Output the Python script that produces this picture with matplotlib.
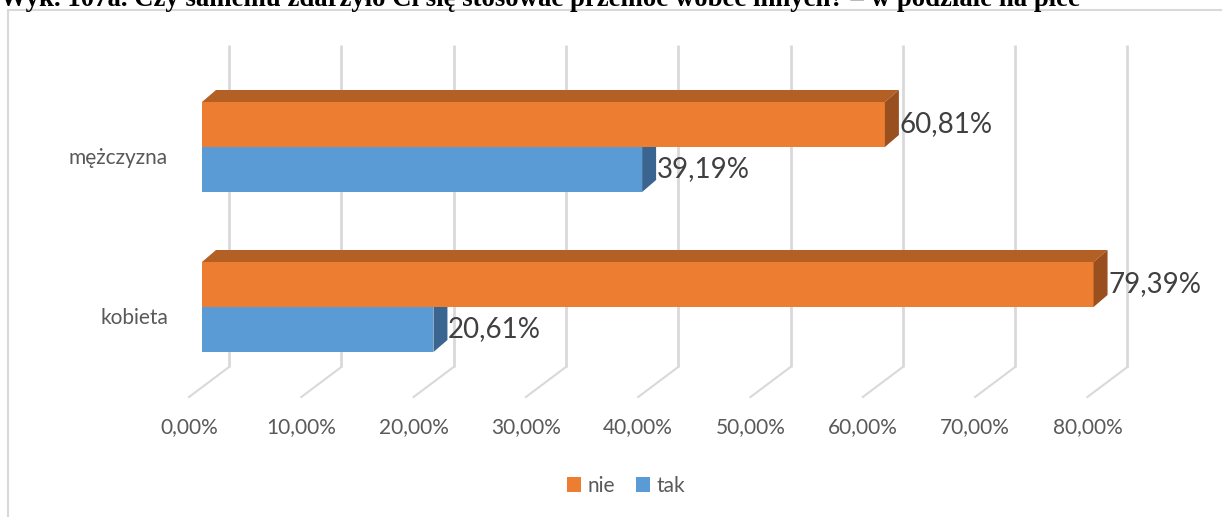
import matplotlib.pyplot as plt
from matplotlib.patches import Polygon, Rectangle, Patch

W, H = 1222, 517

title = "Wyk. 107a. Czy samemu zdarzyło Ci się stosować przemoc wobec innych? – w podziale na płeć"
categories = ["kobieta", "mężczyzna"]
series = ["nie", "tak"]
nie = [79.39, 60.81]
tak = [20.61, 39.19]
ticks = [0, 10, 20, 30, 40, 50, 60, 70, 80]

col_front = {"nie": "#ED7D31", "tak": "#5B9BD5"}
col_top = {"nie": "#B45F24", "tak": "#44729E"}
col_side = {"nie": "#9A4F1E", "tak": "#3A6590"}

plt.rcParams['font.family'] = ['Lato', 'DejaVu Sans']

fig = plt.figure(figsize=(W / 100, H / 100), dpi=100)
ax = fig.add_axes([0, 0, 1, 1])

# pixel -> data mapping: x in percent, y in category units
px_per_pct = 11.23
x0_px = 202
y_px_per_unit = 160
y0_px = 307
ax.set_xlim(-x0_px / px_per_pct, (W - x0_px) / px_per_pct)
ax.set_ylim((y0_px - H) / y_px_per_unit, y0_px / y_px_per_unit)
ax.axis('off')

h = 45 / y_px_per_unit          # bar thickness
dx = 14 / px_per_pct            # bar depth in x
dy = 12 / y_px_per_unit         # bar depth in y
wall_dx = 27 / px_per_pct       # back wall offset
floor_back = -60 / y_px_per_unit
floor_front = -90 / y_px_per_unit
floor_dx = -40 / px_per_pct
wall_top = 262 / y_px_per_unit
grid_c = "#D9D9D9"

# back wall and floor grid
for v in ticks:
    ax.plot([v + wall_dx, v + wall_dx], [floor_back, wall_top], color=grid_c, lw=2, zorder=1,
            solid_capstyle='butt')
    ax.plot([v + wall_dx, v + wall_dx + floor_dx], [floor_back, floor_front], color=grid_c,
            lw=1.5, zorder=1)
    ax.text(v + wall_dx + floor_dx, -120 / y_px_per_unit, f"{v:.2f}%".replace('.', ','),
            ha='center', va='center', fontsize=15, color='#595959')


def bar3d(y, v, name):
    ax.barh(y, v, height=h, left=0, align='edge', color=col_front[name], zorder=3)
    top = [(0, y + h), (dx, y + h + dy), (v + dx, y + h + dy), (v, y + h)]
    side = [(v, y), (v + dx, y + dy), (v + dx, y + h + dy), (v, y + h)]
    ax.add_patch(Polygon(top, closed=True, facecolor=col_top[name], edgecolor='none', zorder=3))
    ax.add_patch(Polygon(side, closed=True, facecolor=col_side[name], edgecolor='none', zorder=3))
    ax.text(v + dx + 0.05, y + h / 2, f"{v:.2f}%".replace('.', ','), ha='left', va='center',
            fontsize=20, color='#404040', zorder=4)


for i, cat in enumerate(categories):
    bar3d(i - h, tak[i], "tak")
    bar3d(i, nie[i], "nie")
    ax.text(-34 / px_per_pct, i - 11 / y_px_per_unit, cat, ha='right', va='center',
            fontsize=15, color='#595959')

# chart frame
fig.add_artist(Rectangle((8 / W, -0.01), 1.0, 1 - 10.5 / H + 0.01, transform=fig.transFigure,
                         facecolor='none', edgecolor='#D9D9D9', lw=1.5))

handles = [Patch(facecolor=col_front[s], edgecolor='none') for s in series]
fig.legend(handles, series, loc='center', bbox_to_anchor=(626 / W, 1 - 486 / H), ncol=2,
           frameon=False, fontsize=15, handlelength=0.7, handleheight=0.7,
           handletextpad=0.3, columnspacing=1.0, labelcolor='#595959')

fig.text(0, 1 - 6 / H, title, ha='left', va='baseline', fontsize=19.3,
         family=['Liberation Serif', 'DejaVu Serif'], weight='bold', color='black')

fig.savefig("out.png", dpi=100)
plt.close(fig)
